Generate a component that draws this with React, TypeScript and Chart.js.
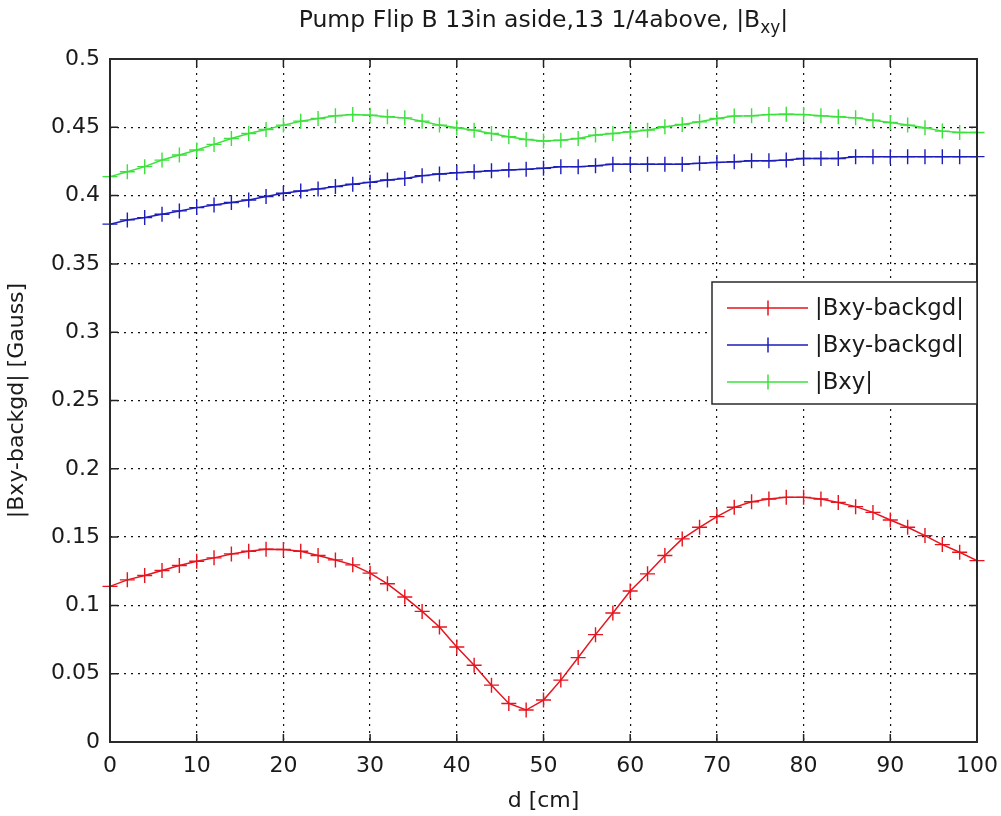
import React, { useEffect, useRef } from "react";
import { Chart, registerables } from "chart.js";

Chart.register(...registerables);

const distances = [
  0, 2, 4, 6, 8, 10, 12, 14, 16, 18, 20, 22, 24, 26, 28, 30, 32, 34, 36, 38, 40,
  42, 44, 46, 48, 50, 52, 54, 56, 58, 60, 62, 64, 66, 68, 70, 72, 74, 76, 78, 80,
  82, 84, 86, 88, 90, 92, 94, 96, 98, 100,
];

const redSeries = [
  0.1139, 0.1187, 0.1219, 0.1255, 0.1292, 0.1323, 0.1348, 0.1377, 0.1396, 0.1411,
  0.1409, 0.1396, 0.1365, 0.1333, 0.1297, 0.1236, 0.1158, 0.1061, 0.0956, 0.0842,
  0.0696, 0.0562, 0.0416, 0.0282, 0.0234, 0.0307, 0.0453, 0.0618, 0.0786, 0.0944,
  0.1105, 0.1231, 0.1365, 0.1487, 0.1572, 0.165, 0.1718, 0.1759, 0.1779, 0.1791,
  0.1791, 0.1779, 0.1754, 0.1723, 0.1681, 0.1625, 0.1572, 0.1511, 0.1445, 0.1389,
  0.1328,
];

const blueSeries = [
  0.3791, 0.3822, 0.3839, 0.3864, 0.3888, 0.3912, 0.3932, 0.3949, 0.3968, 0.3993,
  0.4017, 0.4034, 0.4049, 0.4066, 0.4083, 0.4097, 0.4114, 0.4126, 0.4146, 0.4158,
  0.4168, 0.4175, 0.4182, 0.4188, 0.4192, 0.42, 0.4212, 0.4212, 0.4219, 0.4229,
  0.4229, 0.4229, 0.4229, 0.4229, 0.4236, 0.4243, 0.4248, 0.4255, 0.4255, 0.426,
  0.4272, 0.4272, 0.4272, 0.4285, 0.4285, 0.4285, 0.4285, 0.4285, 0.4285, 0.4285,
  0.4285,
];

const greenSeries = [
  0.4139, 0.4175, 0.4212, 0.426, 0.4297, 0.4334, 0.4375, 0.4418, 0.4455, 0.4484,
  0.4516, 0.4545, 0.4564, 0.4584, 0.4593, 0.4589, 0.4577, 0.4569, 0.4545, 0.4516,
  0.4496, 0.4479, 0.4455, 0.4431, 0.4411, 0.4399, 0.4406, 0.4418, 0.4443, 0.4455,
  0.4467, 0.4479, 0.4504, 0.452, 0.454, 0.4564, 0.4582, 0.4584, 0.4593, 0.4596,
  0.4593, 0.4584, 0.4577, 0.4569, 0.4552, 0.4535, 0.4516, 0.4496, 0.4472, 0.4462,
  0.4462,
];

const seriesLabels = ["|Bxy-backgd|", "|Bxy-backgd|", "|Bxy|"];
const seriesColors = ["rgb(230,20,30)", "rgb(30,30,185)", "rgb(60,225,60)"];
const titleMain = "Pump Flip B 13in aside,13 1/4above, |B";
const titleSub = "xy";
const titleEnd = "|";
const xAxisTitle = "d [cm]";
const yAxisTitle = "|Bxy-backgd| [Gauss]";

const FONT = "'DejaVu Sans', sans-serif";
const TEXT_COLOR = "#1a1a1a";

const framePlugin = {
  id: "matlabFrame",
  afterDraw(chart: any) {
    const { ctx, chartArea } = chart;
    const { left, right, top, bottom } = chartArea;
    const xs = chart.scales.x;
    const ys = chart.scales.y;
    ctx.save();
    // inward tick marks
    ctx.strokeStyle = "#222";
    ctx.lineWidth = 1.5;
    const tl = 8;
    ctx.beginPath();
    xs.ticks.forEach((t: any) => {
      const px = xs.getPixelForValue(t.value);
      ctx.moveTo(px, bottom);
      ctx.lineTo(px, bottom - tl);
      ctx.moveTo(px, top);
      ctx.lineTo(px, top + tl);
    });
    ys.ticks.forEach((t: any) => {
      const py = ys.getPixelForValue(t.value);
      ctx.moveTo(left, py);
      ctx.lineTo(left + tl, py);
      ctx.moveTo(right, py);
      ctx.lineTo(right - tl, py);
    });
    ctx.stroke();
    // box
    ctx.lineWidth = 2;
    ctx.strokeStyle = "#2a2a2a";
    ctx.strokeRect(left, top, right - left, bottom - top);

    // title with subscript
    ctx.fillStyle = TEXT_COLOR;
    ctx.textBaseline = "alphabetic";
    ctx.textAlign = "left";
    const mainFont = `23.5px ${FONT}`;
    const subFont = `17px ${FONT}`;
    ctx.font = mainFont;
    const w1 = ctx.measureText(titleMain).width;
    const w3 = ctx.measureText(titleEnd).width;
    ctx.font = subFont;
    const w2 = ctx.measureText(titleSub).width;
    const total = w1 + w2 + w3;
    const cx = (left + right) / 2;
    const x0 = cx - total / 2;
    const base = 27;
    ctx.font = mainFont;
    ctx.fillText(titleMain, x0, base);
    ctx.font = subFont;
    ctx.fillText(titleSub, x0 + w1, base + 6);
    ctx.font = mainFont;
    ctx.fillText(titleEnd, x0 + w1 + w2, base);

    // legend
    const lx = 712;
    const ly = 282;
    const lw = right - lx;
    const lh = 122;
    ctx.fillStyle = "#ffffff";
    ctx.fillRect(lx, ly, lw, lh);
    ctx.lineWidth = 1.5;
    ctx.strokeStyle = "#2a2a2a";
    ctx.strokeRect(lx, ly, lw, lh);
    const rows = [308, 345, 382];
    chart.data.datasets.forEach((ds: any, i: number) => {
      const ry = rows[i];
      ctx.strokeStyle = ds.borderColor;
      ctx.lineWidth = 1.5;
      ctx.beginPath();
      ctx.moveTo(727, ry);
      ctx.lineTo(808, ry);
      ctx.moveTo(768, ry - 7.5);
      ctx.lineTo(768, ry + 7.5);
      ctx.stroke();
      ctx.fillStyle = TEXT_COLOR;
      ctx.font = `22.8px ${FONT}`;
      ctx.textBaseline = "middle";
      ctx.textAlign = "left";
      ctx.fillText(ds.label, 815, ry + 1);
    });
    ctx.restore();
  },
};

export default function App() {
  const ref = useRef<HTMLCanvasElement | null>(null);

  useEffect(() => {
    if (!ref.current) return;
    const mk = (vals: number[], i: number) => ({
      label: seriesLabels[i],
      data: distances.map((d, k) => ({ x: d, y: vals[k] })),
      borderColor: seriesColors[i],
      backgroundColor: seriesColors[i],
      borderWidth: 1.5,
      pointStyle: "cross",
      pointRadius: 7.5,
      pointBorderWidth: 1.4,
      pointHoverRadius: 7.5,
      tension: 0,
      clip: false,
    });
    const chart = new Chart(ref.current, {
      type: "line",
      data: {
        datasets: [mk(redSeries, 0), mk(blueSeries, 1), mk(greenSeries, 2)],
      },
      plugins: [framePlugin],
      options: {
        animation: false,
        responsive: false,
        maintainAspectRatio: false,
        layout: { padding: { left: 0, top: 59, right: 24, bottom: 0 } },
        plugins: {
          legend: { display: false },
          title: { display: false },
          tooltip: { enabled: false },
        },
        scales: {
          x: {
            type: "linear",
            min: 0,
            max: 100,
            afterFit: (s: any) => {
              s.height = 74;
              s.paddingLeft = 0;
              s.paddingRight = 0;
            },
            ticks: {
              stepSize: 10,
              padding: 11,
              color: TEXT_COLOR,
              font: { family: FONT, size: 22 },
              maxRotation: 0,
            },
            grid: { color: "#111", lineWidth: 1.2, drawTicks: false },
            border: { display: false, dash: [2, 5] },
            title: {
              display: true,
              text: xAxisTitle,
              color: TEXT_COLOR,
              font: { family: FONT, size: 22 },
              padding: { bottom: 2, top: 0 },
            },
          },
          y: {
            type: "linear",
            min: 0,
            max: 0.5,
            afterFit: (s: any) => {
              s.width = 110;
              s.paddingTop = 0;
              s.paddingBottom = 0;
            },
            ticks: {
              stepSize: 0.05,
              padding: 10,
              color: TEXT_COLOR,
              font: { family: FONT, size: 22 },
              callback: (v: any) => String(Number(Number(v).toFixed(2))),
            },
            grid: { color: "#111", lineWidth: 1.2, drawTicks: false },
            border: { display: false, dash: [2, 5] },
            title: {
              display: true,
              text: yAxisTitle,
              color: TEXT_COLOR,
              font: { family: FONT, size: 22 },
              padding: { top: 4, bottom: 0 },
            },
          },
        },
      },
    } as any);
    return () => chart.destroy();
  }, []);

  return (
    <div style={{ position: "absolute", left: 0, top: 0, width: 1001, height: 816, background: "#fff" }}>
      <canvas ref={ref} width={1001} height={816} style={{ display: "block" }} />
    </div>
  );
}
